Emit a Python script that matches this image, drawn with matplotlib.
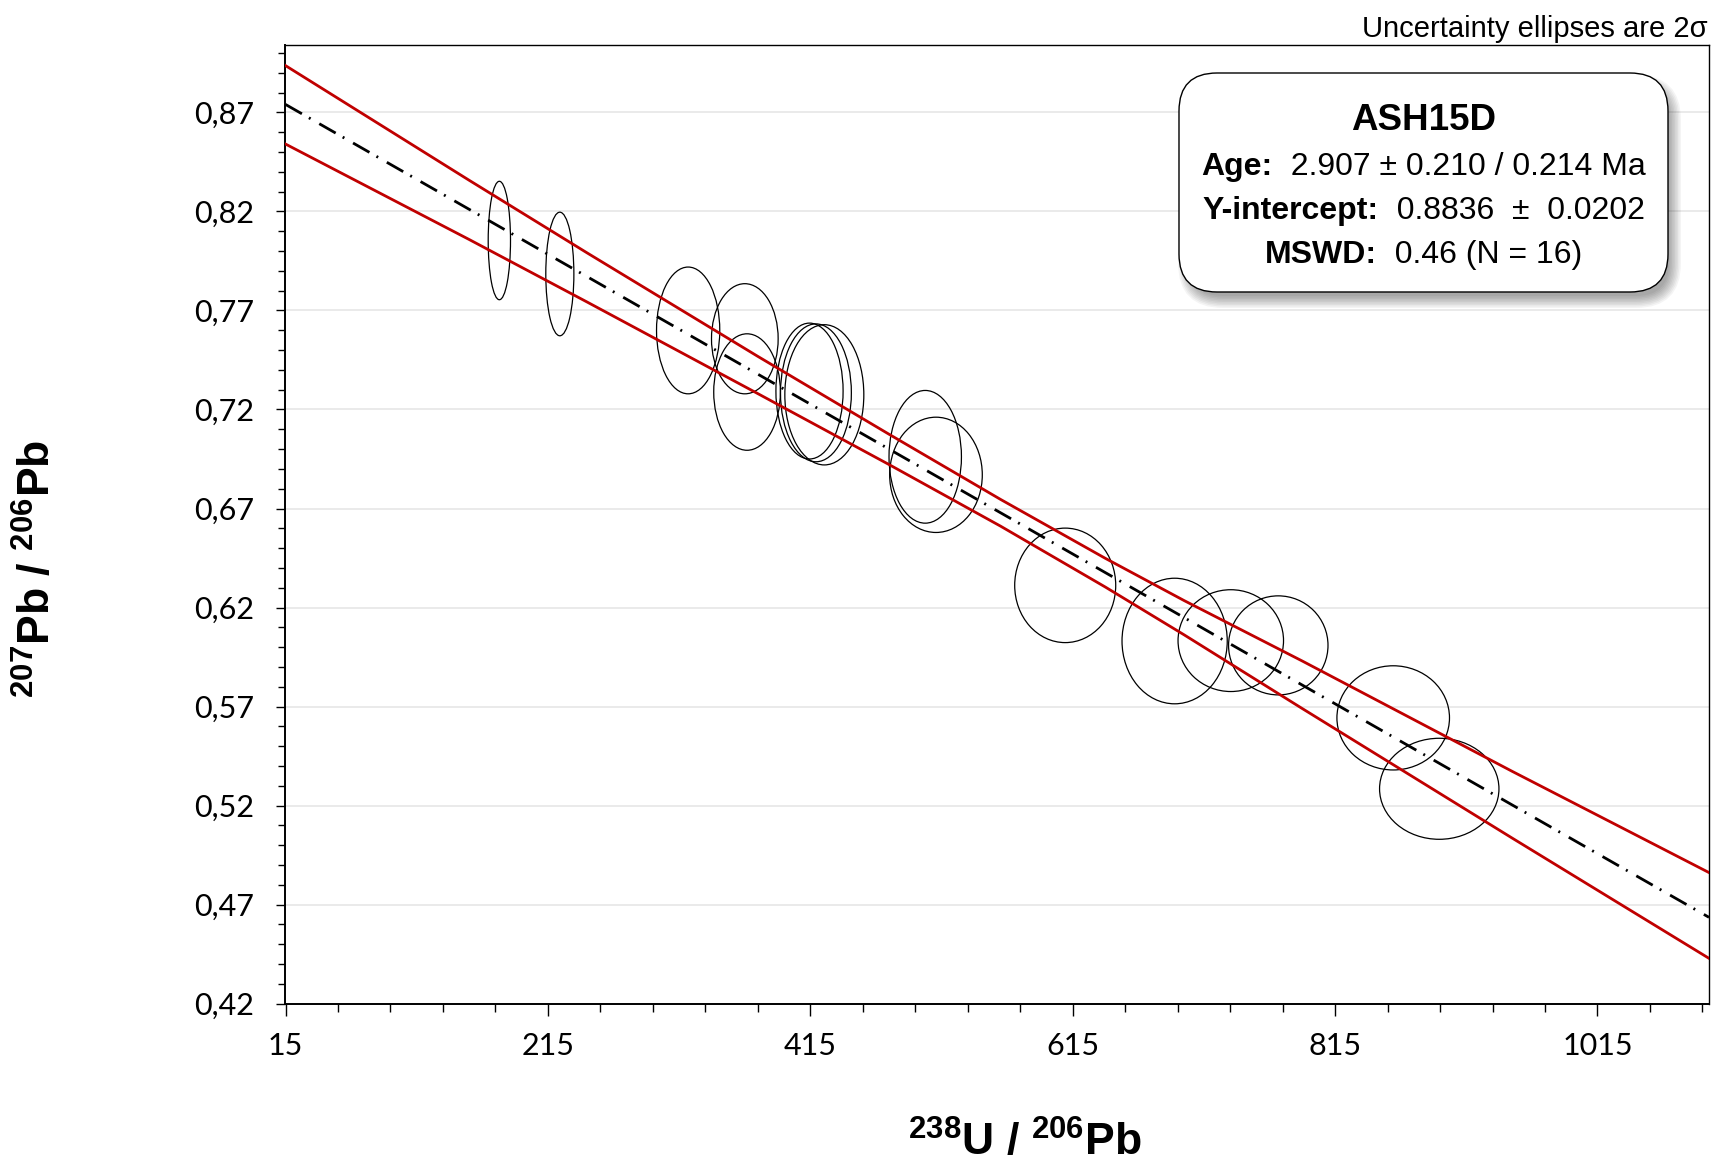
import matplotlib
matplotlib.use("Agg")
import matplotlib.pyplot as plt
import numpy as np
from matplotlib.patches import Ellipse, FancyBboxPatch
from matplotlib.transforms import IdentityTransform
from matplotlib.offsetbox import TextArea, HPacker, AnnotationBbox
from matplotlib.ticker import FuncFormatter

plt.rcParams["mathtext.fontset"] = "custom"
plt.rcParams["mathtext.rm"] = "Liberation Sans"
plt.rcParams["mathtext.bf"] = "Liberation Sans:bold"
plt.rcParams["mathtext.default"] = "bf"

# 2-sigma ellipses: centres (238U/206Pb, 207Pb/206Pb) and half-axes
ell_x = [178.0, 224.1, 321.9, 365.1, 366.8, 414.4, 419.3, 425.7,
         502.6, 510.8, 609.3, 692.7, 735.5, 771.7, 859.3, 894.4]
ell_y = [0.8053, 0.7884, 0.7599, 0.7557, 0.7288, 0.7293, 0.7284, 0.7274,
         0.6961, 0.6870, 0.6312, 0.6031, 0.6033, 0.6009, 0.5643, 0.5285]
ell_sx = [8.5, 10.7, 24.1, 25.4, 25.4, 25.6, 27.0, 30.1,
          27.6, 35.3, 38.5, 40.1, 40.2, 37.9, 42.9, 45.5]
ell_sy = [0.0299, 0.0312, 0.0320, 0.0278, 0.0294, 0.0343, 0.0348, 0.0354,
          0.0335, 0.0291, 0.0289, 0.0317, 0.0257, 0.0250, 0.0263, 0.0255]

# regression line and its confidence envelope
fit_x = [15, 1100]
fit_y = [0.8740, 0.4636]
env_x = [15, 155, 245, 375, 475, 560, 640, 700, 790, 950, 1100]
env_hi = [0.8936, 0.8357, 0.7990, 0.7468, 0.7075, 0.6746, 0.6448, 0.6235, 0.5930, 0.5373, 0.4862]
env_lo = [0.8540, 0.8058, 0.7742, 0.7280, 0.6922, 0.6611, 0.6303, 0.6062, 0.5690, 0.5036, 0.4429]

sample = "ASH15D"
age_txt = "  2.907 \u00b1 0.210 / 0.214 Ma"
yint_txt = "  0.8836  \u00b1  0.0202"
mswd_txt = "  0.46 (N = 16)"

W, H = 1715, 1163
fig = plt.figure(figsize=(W / 100, H / 100), dpi=100)
ax = fig.add_axes([285.5 / W, 1 - 1003.7 / H, (1709 - 285.5) / W, (1003.7 - 45) / H])

for x, y, sx, sy in zip(ell_x, ell_y, ell_sx, ell_sy):
    ax.add_patch(Ellipse((x, y), 2 * sx, 2 * sy, fill=False, edgecolor="black", lw=0.9, zorder=2))

red = "#C00000"
ax.plot(env_x, env_hi, color=red, lw=2, zorder=3)
ax.plot(env_x, env_lo, color=red, lw=2, zorder=3)
ax.plot(fit_x, fit_y, color="black", lw=2, zorder=4,
        linestyle=(0, (6.8, 2.9, 0.7, 3.6)))

ax.set_xlim(15, 1100)
ax.set_ylim(0.42, 0.904)
ax.set_xticks(np.arange(15, 1100, 200))
ax.set_xticks(np.arange(55, 1100, 40), minor=True)
ax.set_yticks(np.arange(0.42, 0.875, 0.05))
ax.set_yticks(np.arange(0.43, 0.905, 0.01), minor=True)
ax.xaxis.set_major_formatter(FuncFormatter(lambda v, p: f"{v:.0f}"))
ax.yaxis.set_major_formatter(FuncFormatter(lambda v, p: f"{v:.2f}".replace(".", ",")))

ax.tick_params(axis="x", which="major", direction="out", length=8.3, width=1, pad=12)
ax.tick_params(axis="x", which="minor", direction="out", length=6, width=1)
ax.tick_params(axis="y", which="major", direction="out", length=6.7, width=1, pad=16)
ax.tick_params(axis="y", which="minor", direction="out", length=5.3, width=1)
for lab in ax.get_xticklabels() + ax.get_yticklabels():
    lab.set_family("Lato")
    lab.set_fontsize(22)

ax.yaxis.grid(True, which="major", color="#e6e6e6", lw=1.2)
ax.set_axisbelow(True)
for side in ["left", "bottom"]:
    ax.spines[side].set_linewidth(1.4)
for side in ["top", "right"]:
    ax.spines[side].set_linewidth(1.0)

fig.text(1025 / W, 1 - 1143 / H, r"$^{238}$U / $^{206}$Pb", ha="center", va="center",
         fontsize=32, fontweight="bold", family="Liberation Sans")
fig.text(38 / W, 1 - 569 / H, r"$^{207}$Pb / $^{206}$Pb", ha="center", va="center",
         rotation=90, fontsize=32, fontweight="bold", family="Liberation Sans")
fig.text(1708 / W, 1 - 29 / H, "Uncertainty ellipses are 2\u03c3", ha="right", va="center",
         fontsize=21, family="Liberation Sans")

# results box with a soft drop shadow
bx, by, bw, bh = 1179, H - 292, 489, 219
for s in np.linspace(7, -5, 9):
    fig.add_artist(FancyBboxPatch((bx + 6 - s, by - 9 - s), bw + 2 * s, bh + 2 * s,
                                  boxstyle=f"round,pad=0,rounding_size={38 + s}",
                                  transform=IdentityTransform(), facecolor="black",
                                  edgecolor="none", alpha=0.045, zorder=3))
fig.add_artist(FancyBboxPatch((bx, by), bw, bh, boxstyle="round,pad=0,rounding_size=38",
                              transform=IdentityTransform(), facecolor="white",
                              edgecolor="black", lw=1.0, zorder=4))


def box_line(bold, rest, ypix, size):
    parts = [TextArea(bold, textprops=dict(fontsize=size, fontweight="bold", family="Liberation Sans"))]
    if rest:
        parts.append(TextArea(rest, textprops=dict(fontsize=size, family="Liberation Sans")))
    row = HPacker(children=parts, align="baseline", pad=0, sep=0)
    fig.add_artist(AnnotationBbox(row, (bx + bw / 2, H - ypix), xycoords="figure pixels",
                                  frameon=False, box_alignment=(0.5, 0.5), zorder=5))


box_line(sample, "", 121, 26.5)
box_line("Age:", age_txt, 167, 23)
box_line("Y-intercept:", yint_txt, 211, 23)
box_line("MSWD:", mswd_txt, 255, 23)

fig.savefig("out.png", dpi=100)
